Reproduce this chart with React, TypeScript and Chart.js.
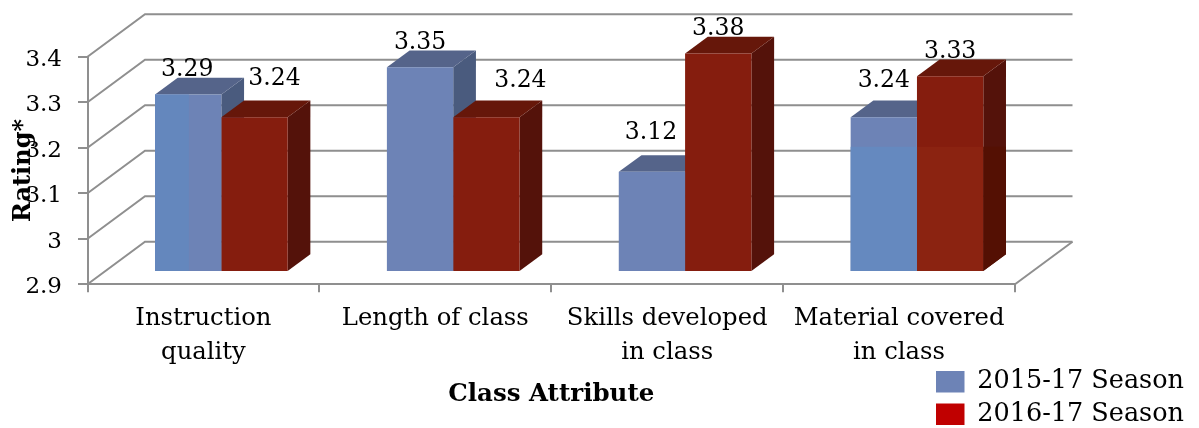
import React, { useEffect, useRef } from "react";
import { Chart, registerables } from "chart.js";

Chart.register(...registerables);

const categories = [
  ["Instruction", "quality"],
  ["Length of class"],
  ["Skills developed", "in class"],
  ["Material covered", "in class"],
];
const season2015 = [3.29, 3.35, 3.12, 3.24];
const season2016 = [3.24, 3.24, 3.38, 3.33];
const seriesNames = ["2015-17 Season", "2016-17 Season"];
const AXIS_MIN = 2.9;
const AXIS_MAX = 3.4;

const FONT = "'DejaVu Serif'";
const INK = "#000000";
const LINE = "#8f8f8f";
const BLUE = "#6d83b6";
const RED = "#851d0e";
const BLUE_TOP = "#55648a";
const BLUE_SIDE = "#4a5b7e";
const RED_TOP = "#66170a";
const RED_SIDE = "#54120a";

const BAR_SHIFT = { x: 17.9, y: -12.3 };
const BAR_DEPTH = { x: 22.7, y: -16.7 };
const WALL_DEPTH = { x: 57.5, y: -42.5 };
const labelNudge = [
  [{ x: -1, y: 18.5 }, { x: 0, y: 18 }, { x: -1, y: 33 }, { x: 0, y: 30 }],
  [{ x: 20, y: 32 }, { x: 34, y: 30 }, { x: 0, y: 19 }, { x: 0, y: 18 }],
];
const BAND_VALUE = 3.175;

function drawFaces(ctx: any, meta: any, side: string, top: string) {
  for (const bar of meta.data) {
    const l = bar.x - bar.width / 2;
    const r = bar.x + bar.width / 2;
    ctx.fillStyle = side;
    ctx.beginPath();
    ctx.moveTo(r, bar.y);
    ctx.lineTo(r + BAR_DEPTH.x, bar.y + BAR_DEPTH.y);
    ctx.lineTo(r + BAR_DEPTH.x, bar.base + BAR_DEPTH.y);
    ctx.lineTo(r, bar.base);
    ctx.closePath();
    ctx.fill();
    ctx.fillStyle = top;
    ctx.beginPath();
    ctx.moveTo(l, bar.y);
    ctx.lineTo(l + BAR_DEPTH.x, bar.y + BAR_DEPTH.y);
    ctx.lineTo(r + BAR_DEPTH.x, bar.y + BAR_DEPTH.y);
    ctx.lineTo(r, bar.y);
    ctx.closePath();
    ctx.fill();
  }
}

const depthPlugin = {
  id: "depth",
  beforeDatasetsDraw(chart: any) {
    const { ctx, chartArea: a, scales } = chart;
    ctx.save();
    ctx.strokeStyle = LINE;
    ctx.lineWidth = 2;
    for (const t of scales.y.ticks) {
      const y = scales.y.getPixelForValue(t.value);
      ctx.beginPath();
      ctx.moveTo(a.left, y);
      ctx.lineTo(a.left + WALL_DEPTH.x, y + WALL_DEPTH.y);
      ctx.lineTo(a.right + WALL_DEPTH.x, y + WALL_DEPTH.y);
      ctx.stroke();
    }
    ctx.beginPath();
    ctx.moveTo(a.right, a.bottom);
    ctx.lineTo(a.right + WALL_DEPTH.x, a.bottom + WALL_DEPTH.y);
    ctx.stroke();
    // the blue faces sit behind everything red
    ctx.translate(BAR_SHIFT.x, BAR_SHIFT.y);
    drawFaces(ctx, chart.getDatasetMeta(0), BLUE_SIDE, BLUE_TOP);
    ctx.restore();
  },
  beforeDatasetDraw(chart: any, args: any) {
    const { ctx } = chart;
    ctx.save();
    ctx.translate(BAR_SHIFT.x, BAR_SHIFT.y);
    if (args.index === 1) drawFaces(ctx, args.meta, RED_SIDE, RED_TOP);
  },
  afterDatasetDraw(chart: any, args: any) {
    const { ctx, scales } = chart;
    const isBlue = args.index === 0;
    const data = args.meta.data;
    const bandY = scales.y.getPixelForValue(BAND_VALUE);
    if (isBlue) {
      const b0 = data[0];
      ctx.fillStyle = "#6487bd";
      ctx.fillRect(b0.x - b0.width / 2, b0.y, b0.width * 0.51, b0.base - b0.y);
    }
    const last = data[3];
    ctx.fillStyle = isBlue ? "#6589bf" : "#8b2311";
    ctx.fillRect(last.x - last.width / 2, bandY, last.width, last.base - bandY);
    if (!isBlue) {
      const r = last.x + last.width / 2;
      ctx.fillStyle = "#541003";
      ctx.beginPath();
      ctx.moveTo(r, bandY);
      ctx.lineTo(r + BAR_DEPTH.x, bandY);
      ctx.lineTo(r + BAR_DEPTH.x, last.base + BAR_DEPTH.y);
      ctx.lineTo(r, last.base);
      ctx.closePath();
      ctx.fill();
    }
    ctx.restore();
  },
  afterDatasetsDraw(chart: any) {
    const { ctx } = chart;
    ctx.save();
    ctx.fillStyle = INK;
    ctx.font = `23.5px ${FONT}`;
    ctx.textAlign = "center";
    ctx.textBaseline = "alphabetic";
    chart.data.datasets.forEach((ds: any, i: number) => {
      const meta = chart.getDatasetMeta(i);
      meta.data.forEach((bar: any, j: number) => {
        const n = labelNudge[i][j];
        ctx.fillText(
          ds.data[j].toFixed(2),
          bar.x + BAR_SHIFT.x + n.x,
          bar.y + BAR_SHIFT.y - n.y
        );
      });
    });
    ctx.restore();
  },
  afterLayout(chart: any) {
    const lg = chart.legend;
    if (!lg) return;
    lg.left = 929;
    lg.top = 362;
    lg.right = 1199;
    lg.bottom = 460;
    lg.width = 270;
    lg.height = 98;
  },
};

export default function App() {
  const ref = useRef<HTMLCanvasElement | null>(null);
  useEffect(() => {
    document.body.style.margin = "0";
    document.body.style.background = "#ffffff";
    const chart = new Chart(ref.current as HTMLCanvasElement, {
      type: "bar",
      data: {
        labels: categories,
        datasets: [
          { label: seriesNames[0], data: season2015, backgroundColor: BLUE, base: AXIS_MIN, clip: false },
          { label: seriesNames[1], data: season2016, backgroundColor: RED, base: AXIS_MIN, clip: false },
        ],
      },
      plugins: [depthPlugin],
      options: {
        animation: false,
        responsive: false,
        layout: { padding: { left: 0, top: 56.7, right: 184, bottom: 0 } },
        datasets: { bar: { categoryPercentage: 0.572, barPercentage: 1 } },
        plugins: {
          tooltip: { enabled: false },
          legend: {
            position: "chartArea",
            align: "start",
            labels: {
              boxWidth: 28.5,
              boxHeight: 21.5,
              padding: 7,
              color: INK,
              useBorderRadius: true,
              borderRadius: 2,
              font: { family: FONT, size: 25.5 },
              generateLabels: () => [
                { text: seriesNames[0], fillStyle: BLUE, strokeStyle: BLUE, lineWidth: 0, datasetIndex: 0 },
                { text: seriesNames[1], fillStyle: "#c00000", strokeStyle: "#c00000", lineWidth: 0, datasetIndex: 1 },
              ],
            },
          },
        },
        scales: {
          x: {
            afterFit(s: any) {
              s.height = 428 - 284.3;
              s.paddingLeft = 0;
              s.paddingRight = 0;
            },
            grid: { drawOnChartArea: false, color: LINE, lineWidth: 2, tickLength: 8 },
            border: { color: LINE, width: 2 },
            ticks: {
              autoSkip: false,
              maxRotation: 0,
              minRotation: 0,
              padding: 9,
              color: INK,
              font: { family: FONT, size: 24.3, lineHeight: 1.4 },
            },
            title: {
              display: true,
              text: "Class Attribute",
              color: INK,
              font: { family: FONT, size: 24.5, weight: "bold" },
              padding: { top: 0, bottom: 19 },
            },
          },
          y: {
            min: AXIS_MIN,
            max: AXIS_MAX,
            afterFit(s: any) {
              s.width = 87.5;
              s.paddingTop = 0;
              s.paddingBottom = 0;
            },
            grid: { drawOnChartArea: false, color: LINE, lineWidth: 2, tickLength: 9.5 },
            border: { color: LINE, width: 2 },
            ticks: {
              stepSize: 0.1,
              padding: 16,
              labelOffset: 3,
              color: INK,
              font: { family: FONT, size: 23 },
              callback: (v: any) => String(Math.round(Number(v) * 10) / 10),
            },
            title: {
              display: true,
              text: "Rating*",
              color: INK,
              font: { family: FONT, size: 24, weight: "bold" },
              padding: { top: 9, bottom: 0 },
            },
          },
        },
      },
    } as any);
    return () => chart.destroy();
  }, []);
  return <canvas ref={ref} width={1199} height={428} style={{ display: "block" }} />;
}
